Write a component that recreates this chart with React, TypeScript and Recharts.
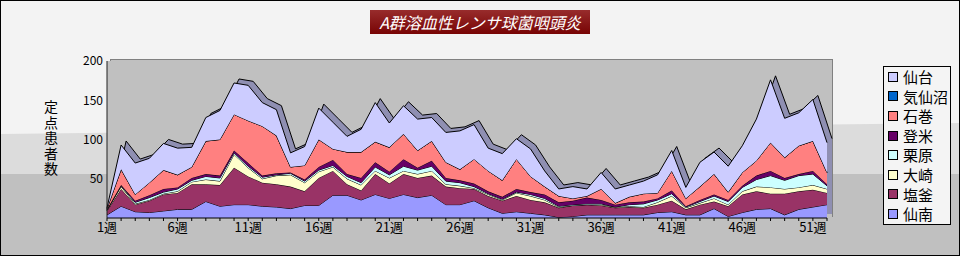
import React from 'react';
import { AreaChart, Area, XAxis, YAxis, CartesianGrid } from 'recharts';

const weekLabels: string[] = Array.from({ length: 52 }, (_, i) => `${i + 1}週`);
const yTicks = [50, 100, 150, 200];

// stacked bottom -> top
const sennan = [4, 15, 8, 7, 9, 11, 11, 21, 15, 17, 17, 15, 14, 12, 16, 16, 29, 29, 23, 30, 25, 30, 26, 29, 17, 17, 22, 13, 6, 8, 6, 4, 1, 2, 4, 4, 4, 4, 4, 7, 8, 4, 4, 12, 2, 7, 11, 12, 4, 11, 14, 17];
const shiogama = [5, 22, 9, 15, 21, 21, 32, 22, 27, 47, 36, 30, 29, 28, 18, 35, 31, 14, 12, 26, 19, 26, 25, 25, 23, 21, 15, 15, 16, 20, 17, 16, 12, 14, 13, 12, 9, 10, 9, 10, 14, 7, 13, 9, 13, 23, 23, 19, 27, 23, 22, 15];
const osaki = [1, 3, 1, 1, 1, 2, 3, 6, 5, 17, 11, 5, 11, 15, 11, 8, 5, 7, 7, 4, 7, 4, 5, 6, 3, 3, 1, 2, 1, 4, 5, 3, 1, 0, 0, 1, 1, 1, 1, 3, 6, 2, 2, 4, 2, 4, 6, 8, 6, 5, 6, 5];
const kurihara = [0, 1, 2, 3, 2, 3, 2, 4, 4, 2, 2, 2, 1, 2, 2, 2, 2, 3, 3, 5, 4, 6, 5, 6, 4, 4, 2, 1, 1, 1, 2, 2, 1, 1, 1, 1, 0, 2, 4, 3, 3, 1, 2, 3, 4, 5, 9, 15, 11, 15, 14, 4];
const tome = [1, 1, 2, 3, 4, 2, 3, 3, 3, 3, 4, 2, 2, 1, 2, 4, 7, 3, 6, 6, 4, 9, 3, 7, 4, 3, 4, 3, 3, 4, 3, 5, 5, 5, 8, 5, 3, 3, 3, 2, 4, 1, 2, 2, 2, 2, 5, 6, 3, 2, 4, 2];
const ishinomaki = [1, 20, 8, 16, 24, 16, 14, 42, 46, 46, 54, 63, 48, 7, 18, 35, 14, 28, 33, 26, 31, 32, 22, 25, 20, 14, 31, 26, 21, 38, 20, 10, 8, 3, 2, 14, 2, 7, 10, 7, 25, 10, 17, 26, 10, 17, 19, 36, 26, 36, 38, 15];
const kesennuma = [0, 0, 0, 0, 0, 0, 0, 0, 0, 0, 0, 0, 0, 0, 0, 0, 0, 0, 0, 0, 0, 0, 0, 0, 0, 0, 0, 0, 0, 0, 0, 0, 0, 0, 0, 0, 0, 0, 0, 0, 0, 0, 0, 0, 0, 0, 0, 0, 0, 0, 0, 0];
const sendai = [1, 31, 40, 31, 34, 34, 25, 30, 37, 40, 45, 30, 33, 18, 24, 40, 34, 20, 29, 50, 31, 36, 40, 30, 38, 49, 44, 29, 34, 26, 35, 20, 9, 15, 9, 21, 18, 15, 16, 23, 26, 14, 31, 28, 33, 34, 53, 80, 50, 42, 53, 38];

const seriesNames = ['仙南', '塩釜', '大崎', '栗原', '登米', '石巻', '気仙沼', '仙台'];
const seriesValues = [sennan, shiogama, osaki, kurihara, tome, ishinomaki, kesennuma, sendai];
const seriesColors = ['#9999ff', '#993366', '#ffffcc', '#ccffff', '#660066', '#ff8080', '#0066cc', '#ccccff'];

const data = weekLabels.map((w, i) => {
  const row: Record<string, number | string> = { week: w };
  let total = 0;
  seriesNames.forEach((n, s) => {
    row[n] = seriesValues[s][i];
    total += seriesValues[s][i];
  });
  row.total = total;
  return row;
});

const FONT = '"Noto Sans CJK JP", "Noto Sans", sans-serif';

const XTick = (props: any) => {
  const { x, y, payload } = props;
  const n = parseInt(String(payload.value), 10);
  if ((n - 1) % 5 !== 0) return <g />;
  return (
    <text x={x} y={y} dy="0.71em" textAnchor="middle" fontSize={13} fill="#000" fontFamily={FONT}>
      {payload.value}
    </text>
  );
};

export default function App() {
  return (
    <div style={{ position: 'relative', width: 960, height: 256, overflow: 'hidden', background: '#f3f3f3', fontFamily: FONT }}>
      <style>{`body{margin:0} .depth{transform:translate(5px,-4px);}`}</style>
      <div style={{ position: 'absolute', left: 0, top: 0, width: 960, height: 256, background: '#dcdcdc', clipPath: 'polygon(0 134px, 960px 123px, 960px 256px, 0 256px)' }} />
      <div style={{ position: 'absolute', left: 0, top: 174, width: 960, height: 82, background: '#c0c0c0' }} />
      {/* back wall */}
      <div style={{ position: 'absolute', left: 110, top: 59, width: 721, height: 157, background: '#c0c0c0', borderTop: '1px solid #808080', borderRight: '1px solid #808080', borderLeft: '1px solid #808080' }} />
      <div style={{ position: 'absolute', left: 370, top: 10, width: 220, height: 24, background: 'linear-gradient(#982c2c, #780404)', color: '#fff', fontStyle: 'italic', fontSize: 16, lineHeight: '24px', textAlign: 'center', whiteSpace: 'nowrap' }}>
        A群溶血性レンサ球菌咽頭炎
      </div>
      <div style={{ position: 'absolute', left: 42, top: 100, writingMode: 'vertical-rl', fontSize: 14, lineHeight: '18px', letterSpacing: '1.5px', color: '#000' }}>
        定点患者数
      </div>
      <div style={{ position: 'absolute', left: 0, top: 0 }}>
        <AreaChart width={960} height={256} data={data} margin={{ top: 61, right: 133, bottom: 8, left: 47 }}>
          <CartesianGrid horizontal={false} vertical={false} fill="#c0c0c0" />
          <XAxis dataKey="week" interval={0} tick={<XTick />} tickSize={3} tickMargin={2} height={30} axisLine={{ stroke: '#000' }} tickLine={{ stroke: '#000' }} />
          <YAxis domain={[0, 200]} ticks={yTicks} width={60} tickLine={false} tickSize={0} tickMargin={4} axisLine={{ stroke: '#202020' }} tick={{ fontSize: 12, fill: '#000', fontFamily: FONT }} />
          <Area className="depth" type="linear" dataKey="total" fill="#8f8fb2" fillOpacity={1} stroke="#000" strokeWidth={1} isAnimationActive={false} />
          {seriesNames.map((n, s) => (
            <Area key={n} type="linear" dataKey={n} stackId="a" fill={seriesColors[s]} fillOpacity={1} stroke="#000" strokeWidth={1} isAnimationActive={false} />
          ))}
        </AreaChart>
      </div>
      <div style={{ position: 'absolute', left: 883, top: 66, width: 68, height: 159, boxSizing: 'border-box', border: '1px solid #000', background: '#f4f4f4' }}>
        {seriesNames.map((n, s) => seriesNames.length - 1 - s).map((idx) => (
          <div key={idx} style={{ display: 'flex', alignItems: 'center', height: 19.6, fontSize: 15, color: '#000' }}>
            <span style={{ display: 'inline-block', width: 8, height: 8, border: '1px solid #000', background: seriesColors[idx], marginLeft: 4, marginRight: 5 }} />
            <span style={{ lineHeight: '19.6px' }}>{seriesNames[idx]}</span>
          </div>
        ))}
      </div>
      <div style={{ position: 'absolute', left: 0, top: 0, width: 960, height: 256, boxSizing: 'border-box', border: '1px solid #000', pointerEvents: 'none' }} />
    </div>
  );
}
